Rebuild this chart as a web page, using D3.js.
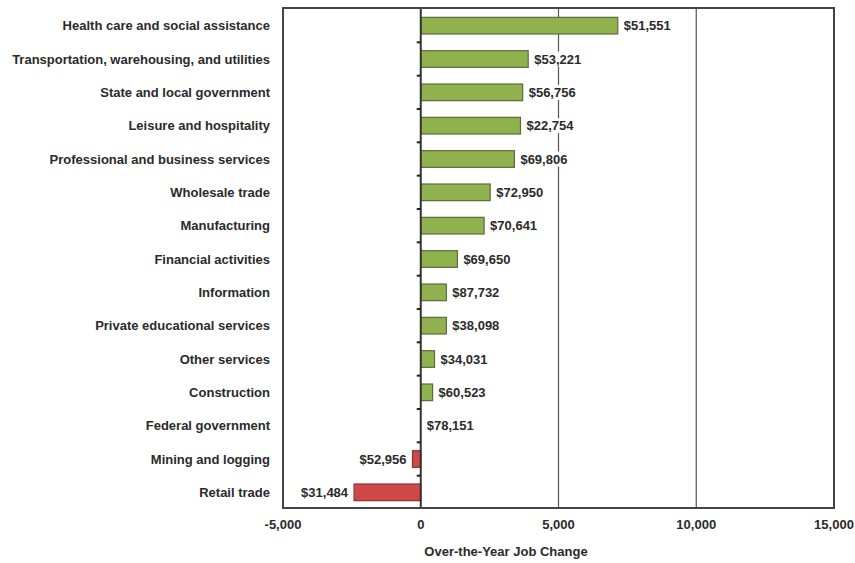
<!DOCTYPE html>
<html><head><meta charset="utf-8">
<script src="https://cdn.jsdelivr.net/npm/d3@7"></script>
<style>body{margin:0;background:#fff;} text{font-family:"Liberation Sans",Arial,sans-serif;font-weight:bold;}</style>
</head><body>
<svg id="c" width="855" height="563"></svg>
<script>
const categories = ["Health care and social assistance","Transportation, warehousing, and utilities","State and local government","Leisure and hospitality","Professional and business services","Wholesale trade","Manufacturing","Financial activities","Information","Private educational services","Other services","Construction","Federal government","Mining and logging","Retail trade"];
const jobChange = [7150, 3900, 3700, 3620, 3400, 2520, 2300, 1330, 930, 930, 500, 430, 0, -300, -2420];
const wageLabels = ["$51,551","$53,221","$56,756","$22,754","$69,806","$72,950","$70,641","$69,650","$87,732","$38,098","$34,031","$60,523","$78,151","$52,956","$31,484"];
const xTicks = [-5000, 0, 5000, 10000, 15000];
const xTitle = "Over-the-Year Job Change";

const svg = d3.select("#c");
const L = 283, R = 834, T = 8, B = 508;
const x = d3.scaleLinear().domain([-5000, 15000]).range([L, R]);
const y = d3.scaleBand().domain(categories).range([T + 1, B + 1]).paddingInner(0.5).paddingOuter(0.25);

// gridlines
svg.append("g").selectAll("line").data([5000, 10000]).join("line")
  .attr("x1", d => x(d)).attr("x2", d => x(d)).attr("y1", T).attr("y2", B)
  .attr("stroke", "#555").attr("stroke-width", 1.2);

// bars
svg.append("g").selectAll("rect").data(jobChange).join("rect")
  .attr("x", d => x(Math.min(0, d))).attr("width", d => Math.abs(x(d) - x(0)))
  .attr("y", (d, i) => y(categories[i])).attr("height", y.bandwidth())
  .attr("fill", d => d < 0 ? "#cf4746" : "#8fb24e")
  .attr("stroke", d => d < 0 ? "#8a3434" : "#5b6b3a").attr("stroke-width", 1.2)
  .style("display", d => d === 0 ? "none" : null);

// value labels with white backing
const lg = svg.append("g");
jobChange.forEach((d, i) => {
  const cy = y(categories[i]) + y.bandwidth() / 2;
  const g = lg.append("g");
  const t = g.append("text")
    .attr("x", d < 0 ? x(d) - 6 : x(d) + 6).attr("y", cy).attr("dy", "0.35em")
    .attr("text-anchor", d < 0 ? "end" : "start")
    .attr("font-size", 13).attr("fill", "#2a2a2a").text(wageLabels[i]);
  const bb = t.node().getBBox();
  g.insert("rect", "text").attr("x", bb.x - 2).attr("y", bb.y).attr("width", bb.width + 4).attr("height", bb.height).attr("fill", "#fff");
});

// zero axis with category ticks
svg.append("line").attr("x1", x(0)).attr("x2", x(0)).attr("y1", T).attr("y2", B)
  .attr("stroke", "#333").attr("stroke-width", 2);
const step = y.step();
const bounds = d3.range(1, categories.length).map(k => T + 1 + k * (B - T) / categories.length);
svg.append("g").selectAll("line").data(bounds).join("line")
  .attr("x1", x(0) - 4).attr("x2", x(0)).attr("y1", d => d).attr("y2", d => d)
  .attr("stroke", "#222").attr("stroke-width", 2);

// frame
svg.append("rect").attr("x", L).attr("y", T).attr("width", R - L).attr("height", B - T)
  .attr("fill", "none").attr("stroke", "#444").attr("stroke-width", 2);

// category labels
svg.append("g").selectAll("text").data(categories).join("text")
  .attr("x", 270).attr("y", d => y(d) + y.bandwidth() / 2).attr("dy", "0.35em")
  .attr("text-anchor", "end").attr("font-size", 13).attr("fill", "#2a2a2a").text(d => d);

// x axis labels
svg.append("g").selectAll("text").data(xTicks).join("text")
  .attr("x", d => x(d)).attr("y", 524).attr("dy", "0.35em").attr("text-anchor", "middle")
  .attr("font-size", 13).attr("fill", "#2a2a2a").text(d => d3.format(",")(d).replace("−", "-"));

svg.append("text").attr("x", 506).attr("y", 551).attr("dy", "0.35em").attr("text-anchor", "middle")
  .attr("font-size", 13).attr("fill", "#2a2a2a").text(xTitle);
</script>
</body></html>
